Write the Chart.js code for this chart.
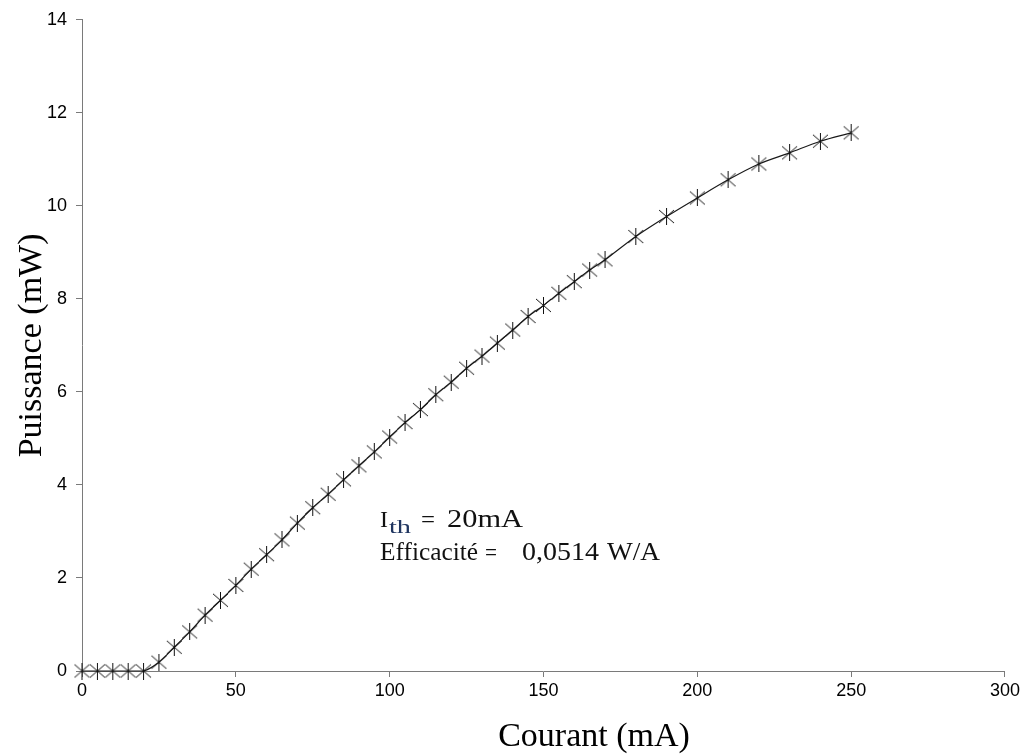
<!DOCTYPE html>
<html>
<head>
<meta charset="utf-8">
<script src="https://cdn.jsdelivr.net/npm/chart.js@4.4.1/dist/chart.umd.min.js"></script>
<style>
html,body{margin:0;padding:0;background:#fff;}
#wrap{width:1023px;height:756px;}
</style>
</head>
<body>
<div id="wrap"><canvas id="c" width="1023" height="756"></canvas></div>
<script>
// Data
const currentMA = [0,5,10,15,20,25,30,35,40,45,50,55,60,65,70,75,80,85,90,95,100,105,110,115,120,125,130,135,140,145,150,155,160,165,170,180,190,200,210,220,230,240,250];
const powerMW   = [0,0,0,0,0,0.19,0.51,0.84,1.20,1.52,1.84,2.19,2.50,2.82,3.18,3.51,3.80,4.11,4.41,4.71,5.03,5.34,5.62,5.94,6.21,6.51,6.77,7.05,7.33,7.62,7.86,8.12,8.37,8.62,8.84,9.34,9.77,10.17,10.56,10.90,11.14,11.39,11.57];
const xTitle = 'Courant (mA)';
const yTitle = 'Puissance (mW)';
const noteLine1 = ['I', 'th', '=', '20mA'];
const noteLine2 = ['Efficacité', '=', '0,0514', 'W/A'];

function makeStar(){
  const c = document.createElement('canvas');
  c.width = 17; c.height = 17;
  const g = c.getContext('2d');
  g.strokeStyle = '#111';
  g.lineWidth = 1;
  g.beginPath();
  g.moveTo(8.5, 0); g.lineTo(8.5, 17);
  g.moveTo(1, 2); g.lineTo(16, 15);
  g.moveTo(16, 2); g.lineTo(1, 15);
  g.stroke();
  return c;
}

const points = currentMA.map((x, i) => ({x: x, y: powerMW[i]}));

function drawSeg(ctx, text, x, y, size, targetW){
  ctx.save();
  ctx.font = size + 'px "Liberation Serif", "Times New Roman", serif';
  ctx.textBaseline = 'alphabetic';
  ctx.textAlign = 'left';
  const w = ctx.measureText(text).width;
  const sx = targetW ? targetW / w : 1;
  ctx.translate(x, y);
  ctx.scale(sx, 1);
  ctx.fillText(text, 0, 0);
  ctx.restore();
}

const notePlugin = {
  id: 'note',
  afterDraw(chart){
    const ctx = chart.ctx;
    ctx.save();
    ctx.fillStyle = '#111';
    drawSeg(ctx, noteLine1[0], 380, 527, 24, 0);
    ctx.fillStyle = '#1f3560';
    drawSeg(ctx, noteLine1[1], 389, 533, 18, 22);
    ctx.fillStyle = '#111';
    drawSeg(ctx, noteLine1[2], 421, 527, 24, 14);
    drawSeg(ctx, noteLine1[3], 447, 527, 25, 76);
    drawSeg(ctx, noteLine2[0], 380, 560, 25, 98);
    drawSeg(ctx, noteLine2[1], 485, 560, 24, 12);
    drawSeg(ctx, noteLine2[2], 522, 560, 25, 77);
    drawSeg(ctx, noteLine2[3], 607, 560, 25, 53);
    // x-axis title (offset to the right as in the reference)
    ctx.fillStyle = '#000';
    ctx.font = '34px "Liberation Serif", "Times New Roman", serif';
    ctx.textAlign = 'center';
    ctx.textBaseline = 'alphabetic';
    ctx.fillText(xTitle, 594, 746);
    ctx.restore();
  }
};

new Chart(document.getElementById('c'), {
  type: 'line',
  data: {
    datasets: [{
      data: points,
      borderColor: '#1a1a1a',
      borderWidth: 1.2,
      tension: 0.3,
      fill: false,
      clip: false,
      pointStyle: makeStar(),
      pointRadius: 8,
      pointHoverRadius: 8
    }]
  },
  options: {
    responsive: false,
    devicePixelRatio: 1,
    animation: false,
    layout: { padding: { top: 18, right: 17, bottom: 0, left: 0 } },
    plugins: { legend: { display: false }, tooltip: { enabled: false } },
    scales: {
      x: {
        type: 'linear',
        min: 0, max: 300,
        afterFit(s){ s.height = 85; },
        ticks: { stepSize: 50, color: '#000', padding: 3,
                 font: { family: '"Liberation Sans", Arial, sans-serif', size: 18 } },
        grid: { display: true, drawOnChartArea: false, drawTicks: true, tickLength: 6, color: '#7a7a7a' },
        border: { display: true, color: '#7a7a7a', width: 1 },
        title: { display: false, text: xTitle }
      },
      y: {
        type: 'linear',
        min: 0, max: 14,
        afterFit(s){ s.width = 82; },
        ticks: { stepSize: 2, color: '#000', padding: 9,
                 font: { family: '"Liberation Sans", Arial, sans-serif', size: 18 } },
        grid: { display: true, drawOnChartArea: false, drawTicks: true, tickLength: 6, color: '#7a7a7a' },
        border: { display: true, color: '#7a7a7a', width: 1 },
        title: { display: true, text: yTitle, color: '#000',
                 font: { family: '"Liberation Serif", "Times New Roman", serif', size: 34, lineHeight: 1 },
                 padding: { top: 15, bottom: 0 } }
      }
    }
  },
  plugins: [notePlugin]
});
</script>
</body>
</html>
